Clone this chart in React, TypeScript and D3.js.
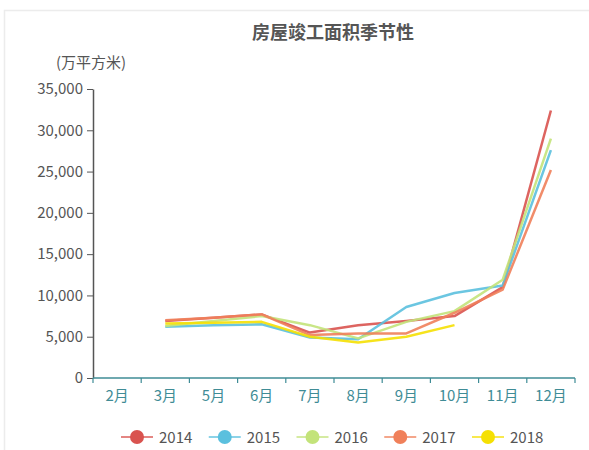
import { useEffect, useRef } from 'react';
import * as d3 from 'd3';

const months = ['2月', '3月', '5月', '6月', '7月', '8月', '9月', '10月', '11月', '12月'];
const years = ['2014', '2015', '2016', '2017', '2018'];
const colors = ['#d9534f', '#5bc0de', '#c3e37a', '#f0805a', '#f5e003'];
const yTicks = [0, 5000, 10000, 15000, 20000, 25000, 30000, 35000];

// values from 3月 onward (2月 has no data)
const v2014 = [6900, 7300, 7700, 5500, 6400, 6900, 7500, 11000, 32400];
const v2015 = [6200, 6400, 6500, 4900, 4700, 8600, 10300, 11200, 27600];
const v2016 = [6300, 6900, 7500, 6400, 4800, 6800, 8100, 11900, 29000];
const v2017 = [7000, 7300, 7700, 5200, 5400, 5400, 7900, 10700, 25200];
const v2018 = [6600, 6700, 6800, 5000, 4300, 5000, 6400];

const seriesValues = [v2014, v2015, v2016, v2017, v2018];

const Chart = () => {
  const svgRef = useRef(null);

  useEffect(() => {
    const svg = d3.select(svgRef.current);
    svg.selectAll('*').remove();

    const width = 589;
    const height = 450;
    const left = 93, right = 575, top = 89, bottom = 378;
    const font = '"Noto Sans CJK SC", "Noto Sans", sans-serif';

    // light frame round the chart
    svg.append('rect')
      .attr('x', 4.5).attr('y', 10.5)
      .attr('width', width).attr('height', height)
      .attr('fill', 'none').attr('stroke', '#ececec').attr('stroke-width', 1.5);

    const x = d3.scaleBand().domain(months).range([left, right]).padding(0);
    const y = d3.scaleLinear().domain([0, 35000]).range([bottom, top]);

    svg.append('text')
      .attr('x', 333).attr('y', 39)
      .attr('text-anchor', 'middle')
      .attr('font-family', font).attr('font-size', 18).attr('font-weight', 'bold')
      .attr('fill', '#555')
      .text('房屋竣工面积季节性');

    svg.append('text')
      .attr('x', 56).attr('y', 68)
      .attr('font-family', font).attr('font-size', 15)
      .attr('fill', '#555')
      .text('(万平方米)');

    // y axis
    const yAxis = svg.append('g')
      .attr('transform', `translate(${left},0)`)
      .call(d3.axisLeft(y).tickValues(yTicks).tickFormat(d3.format(',')).tickSize(6).tickPadding(4).tickSizeOuter(0));
    yAxis.select('.domain').attr('stroke', '#555').attr('stroke-width', 1.5);
    yAxis.selectAll('.tick line').attr('stroke', '#555');
    yAxis.selectAll('text')
      .attr('font-family', font).attr('font-size', 15).attr('fill', '#555');

    // x axis: ticks on band edges, labels in the middle
    const xAxis = svg.append('g');
    const axisColor = '#3f8c96';
    xAxis.append('line')
      .attr('x1', left).attr('x2', right).attr('y1', bottom).attr('y2', bottom)
      .attr('stroke', axisColor).attr('stroke-width', 1.5);
    const edges = months.map(m => x(m)).concat([right]);
    xAxis.selectAll('.edge')
      .data(edges)
      .enter()
      .append('line')
      .attr('x1', d => d).attr('x2', d => d)
      .attr('y1', bottom).attr('y2', bottom + 5)
      .attr('stroke', axisColor).attr('stroke-width', 1.2);
    xAxis.selectAll('.lbl')
      .data(months)
      .enter()
      .append('text')
      .attr('x', d => x(d) + x.bandwidth() / 2)
      .attr('y', bottom + 23)
      .attr('text-anchor', 'middle')
      .attr('font-family', font).attr('font-size', 15)
      .attr('fill', axisColor)
      .text(d => d);

    // lines
    const line = d3.line()
      .x((d, i) => x(months[i + 1]) + x.bandwidth() / 2)
      .y(d => y(d));

    seriesValues.forEach((vals, i) => {
      svg.append('path')
        .datum(vals)
        .attr('d', line)
        .attr('fill', 'none')
        .attr('stroke', colors[i])
        .attr('stroke-width', 2.5)
        .attr('stroke-opacity', 0.9)
        .attr('stroke-linejoin', 'round');
    });

    // legend
    const legend = svg.append('g').attr('transform', 'translate(0,437)');
    years.forEach((yr, i) => {
      const cx = 137 + i * 87.75;
      const g = legend.append('g');
      g.append('line')
        .attr('x1', cx - 16).attr('x2', cx + 16)
        .attr('stroke', colors[i]).attr('stroke-width', 2).attr('stroke-opacity', 0.7);
      g.append('circle')
        .attr('cx', cx).attr('r', 7)
        .attr('fill', colors[i]);
      g.append('text')
        .attr('x', cx + 22).attr('y', 5.5)
        .attr('font-family', font).attr('font-size', 15)
        .attr('fill', '#555')
        .text(yr);
    });
  }, []);

  return <svg ref={svgRef} width={589} height={450} style={{ position: 'absolute', left: 0, top: 0 }}></svg>;
};

export default function App() {
  return <Chart />;
}
